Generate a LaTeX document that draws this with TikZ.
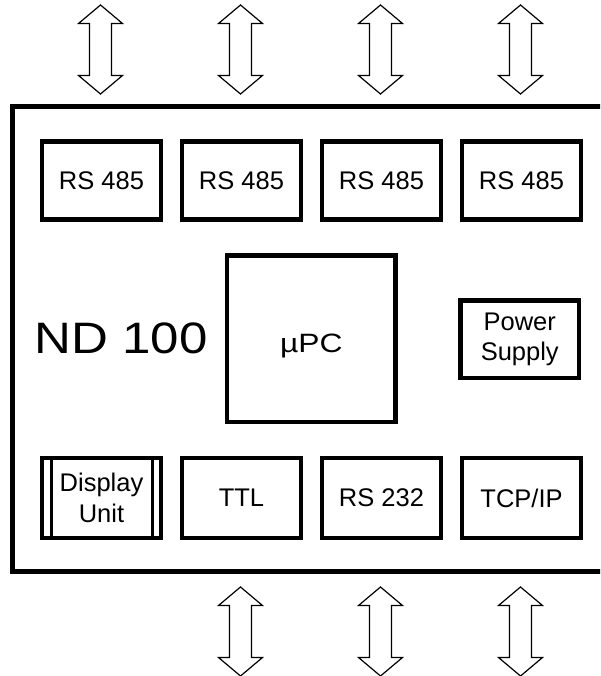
\documentclass[tikz,border=0pt]{standalone}
\usepackage{fontspec}
\usepackage{graphicx}
\setmainfont{Liberation Sans}
\begin{document}
\begin{tikzpicture}[x=1pt,y=-1pt,
  box/.style={draw=black, line width=4.5pt, outer sep=0pt, inner sep=0pt, fill=white,
    minimum width=119pt, minimum height=78pt, align=center,
    font=\fontsize{25.5}{30.5}\selectfont},
  lowbox/.style={box, minimum height=80pt},
  dblarrow/.pic={\draw[line width=1.2pt, line join=miter, fill=white]
     (0,0) -- (22,18.5) -- (11,18.5) -- (11,70.5) -- (22,70.5) -- (0,89)
     -- (-22,70.5) -- (-11,70.5) -- (-11,18.5) -- (-22,18.5) -- cycle;}
]
\clip (0,0) rectangle (600,676);
\fill[white] (0,0) rectangle (600,676);
% outer housing
\draw[line width=4.7pt] (640,106.5) -- (12.8,106.5) -- (12.8,571.5) -- (640,571.5);
% arrows
\coordinate (t1) at (100.5,5);
\coordinate (t2) at (240.5,5);
\coordinate (t3) at (380.5,5);
\coordinate (t4) at (520.5,5);
\coordinate (b2) at (240.5,587);
\coordinate (b3) at (380.5,587);
\coordinate (b4) at (520.5,587);
\foreach \c in {t1,t2,t3,t4,b2,b3,b4} \pic at (\c) {dblarrow};
% top row
\node[box] (rs1) at (101.5,180.5) {RS 485};
\node[box] (rs2) at (241.5,180.5) {RS 485};
\node[box] (rs3) at (381.5,180.5) {RS 485};
\node[box] (rs4) at (521.5,180.5) {RS 485};
% middle
\node[anchor=base, font=\fontsize{44}{50}\selectfont] (nd) at (121,353) {\scalebox{1.16}[1]{ND 100}};
\node[box, minimum width=168.5pt, minimum height=166.5pt] (upc) at (311.25,338.75) {};
\node[anchor=base, font=\fontsize{26.5}{30}\selectfont] (upclabel) at (311.3,352.3) {\scalebox{1.2}[1]{µPC}};
\node[box, minimum width=118.5pt, minimum height=77.5pt] (ps) at (519.75,339.25) {Power\\Supply};
% bottom row
\node[lowbox] (disp) at (101.5,498) {Display\\Unit};
\draw[line width=3pt] ([xshift=9pt]disp.north west) -- ([xshift=9pt]disp.south west);
\draw[line width=3pt] ([xshift=-8.5pt]disp.north east) -- ([xshift=-8.5pt]disp.south east);
\node[lowbox] (ttl) at (241.5,498) {TTL};
\node[lowbox] (rs232) at (381.5,498) {RS 232};
\node[lowbox] (tcp) at (521.5,498) {TCP/IP};
\end{tikzpicture}
\end{document}
